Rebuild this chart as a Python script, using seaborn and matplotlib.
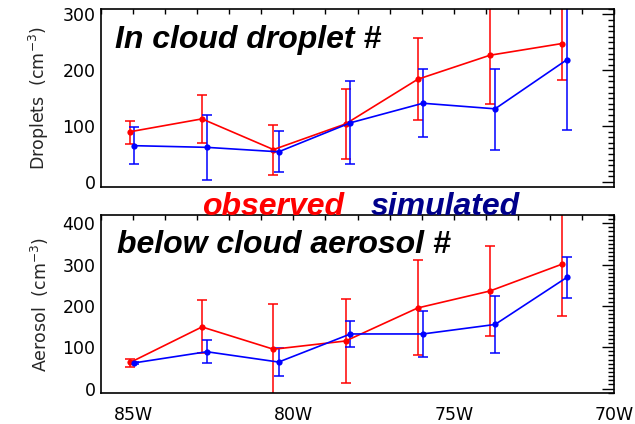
"""
Observed vs simulated droplet and aerosol number along longitude
"""

import numpy as np
import pandas as pd
import matplotlib
matplotlib.use('Agg')
import matplotlib.pyplot as plt
import seaborn as sns
from matplotlib.ticker import MultipleLocator, FuncFormatter

# longitudes of the bins (observed slightly offset from simulated)
lon_obs = [-85.09, -82.85, -80.62, -78.37, -76.12, -73.87, -71.62]
lon_sim = [-84.96, -82.70, -80.46, -78.22, -75.96, -73.71, -71.47]

# in cloud droplet number (cm-3)
drop_obs = [90, 113, 58, 104, 184, 227, 248]
drop_obs_lo = [68, 69, 12, 41, 111, 139, 182]
drop_obs_hi = [110, 155, 102, 167, 257, 320, 320]
drop_sim = [65, 62, 54, 106, 141, 131, 219]
drop_sim_lo = [32, 4, 17, 32, 80, 57, 93]
drop_sim_hi = [99, 120, 92, 180, 202, 203, 345]

# below cloud aerosol number (cm-3)
aer_obs = [63, 149, 95, 115, 195, 236, 301]
aer_obs_lo = [52, 85, -20, 14, 80, 127, 176]
aer_obs_hi = [72, 214, 204, 216, 311, 344, 430]
aer_sim = [62, 89, 64, 132, 132, 155, 269]
aer_sim_lo = [60, 61, 30, 100, 77, 87, 218]
aer_sim_hi = [64, 117, 97, 164, 188, 224, 318]

sns.set_style('white')
plt.rcParams['font.family'] = ['DejaVu Sans']

RED = '#ff0000'
BLUE = '#0000ff'
TICK_FS = 12.5


def draw_panel(ax, obs, obs_lo, obs_hi, sim, sim_lo, sim_hi):
    rows = []
    for x, y in zip(lon_obs, obs):
        rows.append({'lon': x, 'value': y, 'kind': 'observed'})
    for x, y in zip(lon_sim, sim):
        rows.append({'lon': x, 'value': y, 'kind': 'simulated'})
    df = pd.DataFrame(rows)

    for x, y, lo, hi, color in [(lon_obs, obs, obs_lo, obs_hi, RED),
                                (lon_sim, sim, sim_lo, sim_hi, BLUE)]:
        y = np.array(y)
        yerr = [y - np.array(lo), np.array(hi) - y]
        ax.errorbar(x, y, yerr=yerr, fmt='none', ecolor=color,
                    elinewidth=1.1, capsize=3.5, capthick=1.1)

    sns.lineplot(data=df, x='lon', y='value', hue='kind',
                 palette={'observed': RED, 'simulated': BLUE},
                 marker='o', markersize=4.5, markeredgewidth=0,
                 linewidth=1.2, legend=False, ax=ax, sort=False)

    ax.set_xlim(-86, -70)
    ax.xaxis.set_major_locator(MultipleLocator(5))
    ax.xaxis.set_minor_locator(MultipleLocator(1))
    ax.yaxis.set_major_locator(MultipleLocator(100))
    ax.yaxis.set_minor_locator(MultipleLocator(10))
    ax.tick_params(axis='both', which='both', direction='in',
                   top=True, right=True, width=1, colors='black')
    ax.tick_params(axis='y', which='major', length=9, labelsize=TICK_FS, pad=4)
    ax.tick_params(axis='y', which='minor', length=4.5)
    ax.tick_params(axis='x', which='both', length=3.5, labelsize=TICK_FS, pad=9)
    ax.set_xlabel('')
    for s in ax.spines.values():
        s.set_linewidth(1.2)
        s.set_color('black')


fig = plt.figure(figsize=(6.35, 4.24), dpi=100)
ax1 = fig.add_axes([0.159, 0.559, 0.808, 0.420])
ax2 = fig.add_axes([0.159, 0.073, 0.808, 0.420])

draw_panel(ax1, drop_obs, drop_obs_lo, drop_obs_hi,
           drop_sim, drop_sim_lo, drop_sim_hi)
draw_panel(ax2, aer_obs, aer_obs_lo, aer_obs_hi,
           aer_sim, aer_sim_lo, aer_sim_hi)

ax1.set_ylim(-9, 310)
ax2.set_ylim(-11, 420)
ax1.set_xticklabels([])
ax2.xaxis.set_major_formatter(FuncFormatter(lambda v, p: f'{abs(v):.0f}W'))

ax1.set_ylabel('Droplets  (cm$^{-3}$)', fontsize=TICK_FS)
ax2.set_ylabel('Aerosol  (cm$^{-3}$)', fontsize=TICK_FS)
ax1.yaxis.set_label_coords(-0.097, 0.5)
ax2.yaxis.set_label_coords(-0.097, 0.5)

title_kw = dict(fontsize=23, fontweight='bold', fontstyle='italic',
                family=['Liberation Sans', 'DejaVu Sans'])
ax1.text(0.028, 0.781, 'In cloud droplet #', transform=ax1.transAxes,
         va='baseline', ha='left', color='black', **title_kw)
ax2.text(0.031, 0.785, 'below cloud aerosol #', transform=ax2.transAxes,
         va='baseline', ha='left', color='black', **title_kw)
fig.text(0.318, 0.493, 'observed', color=RED, va='baseline', ha='left', **title_kw)
fig.text(0.583, 0.493, 'simulated', color='#00008b', va='baseline', ha='left', **title_kw)

plt.savefig('out.png', dpi=100)
plt.close()
